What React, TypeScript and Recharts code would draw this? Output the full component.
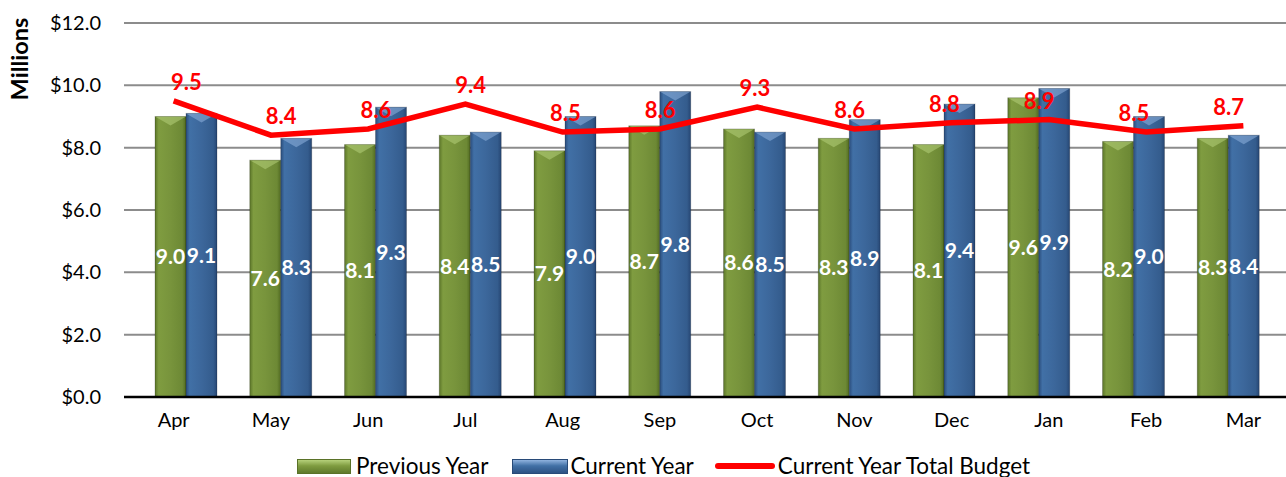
import { ComposedChart, Bar, Line, XAxis, YAxis, CartesianGrid, Legend, LabelList } from 'recharts';

const months = ['Apr', 'May', 'Jun', 'Jul', 'Aug', 'Sep', 'Oct', 'Nov', 'Dec', 'Jan', 'Feb', 'Mar'];
const previousYear = [9.0, 7.6, 8.1, 8.4, 7.9, 8.7, 8.6, 8.3, 8.1, 9.6, 8.2, 8.3];
const currentYear = [9.1, 8.3, 9.3, 8.5, 9.0, 9.8, 8.5, 8.9, 9.4, 9.9, 9.0, 8.4];
const totalBudget = [9.5, 8.4, 8.6, 9.4, 8.5, 8.6, 9.3, 8.6, 8.8, 8.9, 8.5, 8.7];
const yTicks = [0, 2, 4, 6, 8, 10, 12];

const data = months.map((m, i) => ({
  month: m,
  prev: previousYear[i],
  curr: currentYear[i],
  budget: totalBudget[i],
}));

const fmt = (v: any) => Number(v).toFixed(1);

// cylinder-ish bar with a bevelled top, like the office chart style
function bevelBar(id: string, topColor: string) {
  return (props: any) => {
    const { x, y, width, height } = props;
    if (!height || height <= 0) return null;
    const b = Math.min(9, height);
    return (
      <g>
        <rect x={x} y={y} width={width} height={height} fill={`url(#${id})`} />
        <polygon points={`${x},${y} ${x + width},${y} ${x + width / 2},${y + b}`} fill={topColor} opacity={0.55} />
        <rect x={x} y={y} width={width} height={height} fill="none" stroke="rgba(0,0,0,0.2)" strokeWidth={1} />
      </g>
    );
  };
}

function LegendBox() {
  return (
    <div style={{ display: 'flex', alignItems: 'center', height: 26, lineHeight: '26px', fontSize: 22.5, color: '#000', paddingLeft: 297, whiteSpace: 'nowrap' }}>
      <span style={{ width: 52, height: 13, marginRight: 5, background: 'linear-gradient(#b5d07a, #7f9c40 45%, #5f7a2c)', border: '1px solid #5a7228' }} />
      <span style={{ marginRight: 24 }}>Previous Year</span>
      <span style={{ width: 54, height: 13, marginRight: 2, background: 'linear-gradient(#8fb2de, #4170a6 45%, #2d5283)', border: '1px solid #284a78' }} />
      <span style={{ marginRight: 21 }}>Current Year</span>
      <span style={{ width: 60, height: 6, marginRight: 3, background: '#ff0000', borderRadius: 3 }} />
      <span>Current Year Total Budget</span>
    </div>
  );
}

export default function App() {
  return (
    <div style={{ position: 'absolute', left: 0, top: 0, width: 1286, height: 477, overflow: 'hidden', background: '#fff', fontFamily: 'Lato, sans-serif' }}>
      <ComposedChart width={1292} height={477} data={data} margin={{ top: 23, right: 0, bottom: 0, left: 0 }} barGap={0} barSize={31}>
        <defs>
          <linearGradient id="gPrev" x1="0" y1="0" x2="1" y2="0">
            <stop offset="0%" stopColor="#5b7529" />
            <stop offset="12%" stopColor="#7f9c40" />
            <stop offset="50%" stopColor="#78943c" />
            <stop offset="88%" stopColor="#6d8935" />
            <stop offset="100%" stopColor="#526b22" />
          </linearGradient>
          <linearGradient id="gCurr" x1="0" y1="0" x2="1" y2="0">
            <stop offset="0%" stopColor="#2b4d7c" />
            <stop offset="12%" stopColor="#4170a6" />
            <stop offset="50%" stopColor="#3c679b" />
            <stop offset="88%" stopColor="#345c8d" />
            <stop offset="100%" stopColor="#264673" />
          </linearGradient>
        </defs>
        <CartesianGrid xAxisId="main" vertical={false} stroke="#8c8c8c" strokeWidth={2} />
        <XAxis
          xAxisId="main"
          dataKey="month"
          height={56}
          padding={{ left: 1, right: 0 }}
          tickLine={false}
          axisLine={{ stroke: '#000', strokeWidth: 2.5 }}
          tick={{ fill: '#000', fontSize: 20 }}
          tickMargin={10}
          interval={0}
        />
        {/* the bars sit on a slightly narrower band than the month labels, as in the source */}
        <XAxis xAxisId="bars" dataKey="month" hide orientation="top" height={0} padding={{ left: 15, right: 16 }} />
        <YAxis
          width={124}
          domain={[0, 12]}
          ticks={yTicks}
          tickFormatter={(v: number) => `$${v.toFixed(1)}`}
          axisLine={false}
          tickLine={false}
          tickSize={0}
          tickMargin={23}
          tick={{ fill: '#000', fontSize: 20 }}
          label={{
            content: () => (
              <text x={28} y={59} transform="rotate(-90 28 59)" textAnchor="middle" fontSize={23.5} fontWeight="bold" fill="#000">
                Millions
              </text>
            ),
          }}
        />
        <Legend verticalAlign="bottom" align="left" content={() => <LegendBox />} wrapperStyle={{ height: 24, left: 0 }} />
        <Bar xAxisId="bars" dataKey="prev" name="Previous Year" fill="#77933c" shape={bevelBar('gPrev', '#b5d07a')} isAnimationActive={false}>
          <LabelList dataKey="prev" position="center" formatter={fmt} fill="#fff" fontSize={21} fontWeight="bold" />
        </Bar>
        <Bar xAxisId="bars" dataKey="curr" name="Current Year" fill="#3c679b" shape={bevelBar('gCurr', '#8fb2de')} isAnimationActive={false}>
          <LabelList dataKey="curr" position="center" formatter={fmt} fill="#fff" fontSize={21} fontWeight="bold" />
        </Bar>
        <Line
          xAxisId="main"
          type="linear"
          dataKey="budget"
          name="Current Year Total Budget"
          stroke="#ff0000"
          strokeWidth={5.5}
          dot={false}
          activeDot={false}
          isAnimationActive={false}
        />
        {/* budget labels follow the bar positions, not the line vertices */}
        <Line
          xAxisId="bars"
          type="linear"
          dataKey="budget"
          stroke="none"
          dot={false}
          activeDot={false}
          legendType="none"
          isAnimationActive={false}
        >
          <LabelList dataKey="budget" position="top" offset={11} formatter={fmt} fill="#ff0000" fontSize={22} fontWeight="bold" />
        </Line>
      </ComposedChart>
    </div>
  );
}
